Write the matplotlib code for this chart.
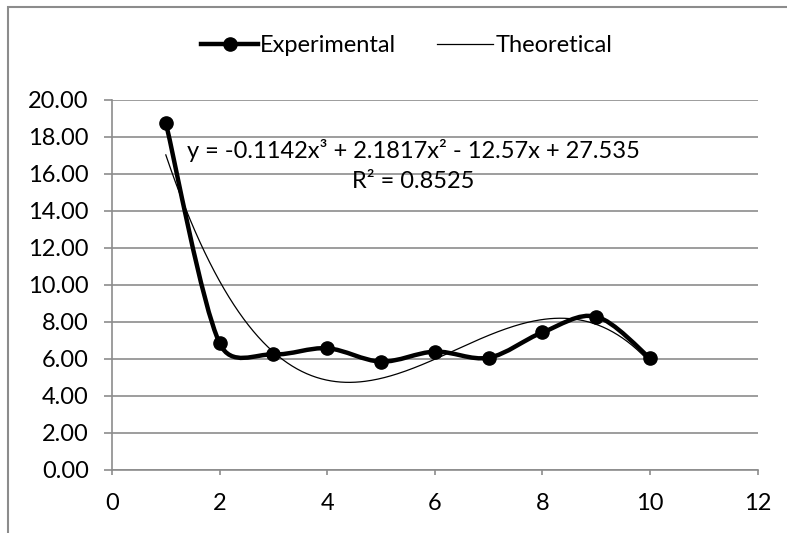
import numpy as np
import matplotlib.pyplot as plt
from matplotlib.path import Path
from matplotlib.patches import PathPatch
from matplotlib.lines import Line2D

plt.rcParams['font.family'] = ['Lato', 'DejaVu Sans']

# measured values
x_exp = [1, 2, 3, 4, 5, 6, 7, 8, 9, 10]
y_exp = [18.77, 6.85, 6.25, 6.58, 5.86, 6.40, 6.07, 7.44, 8.29, 6.04]

# cubic trendline coefficients (highest power first)
trend_coef = [-0.1142, 2.1817, -12.57, 27.535]
trend_label = 'y = -0.1142x³ + 2.1817x² - 12.57x + 27.535\nR² = 0.8525'

x_ticks = [0, 2, 4, 6, 8, 10, 12]
y_ticks = [0, 2, 4, 6, 8, 10, 12, 14, 16, 18, 20]

grid_col = '#8c8c8c'
fs = 17


def smooth_path(ax, xs, ys):
    # bezier segments like a spreadsheet "smoothed line", built in pixel space
    pts = ax.transData.transform(np.column_stack([xs, ys]).astype(float))
    n = len(pts)
    verts = [pts[0]]
    codes = [Path.MOVETO]
    for i in range(n - 1):
        p0 = pts[max(i - 1, 0)]
        p1 = pts[i]
        p2 = pts[i + 1]
        p3 = pts[min(i + 2, n - 1)]
        seg = np.hypot(*(p2 - p1))
        h1 = (p2 - p0) / 6.0
        h2 = (p3 - p1) / 6.0
        # keep handles from overshooting short segments
        lim = 0.5 * seg
        if np.hypot(*h1) > lim:
            h1 = h1 * lim / np.hypot(*h1)
        if np.hypot(*h2) > lim:
            h2 = h2 * lim / np.hypot(*h2)
        verts += [p1 + h1, p2 - h2, p2]
        codes += [Path.CURVE4] * 3
    verts = ax.transData.inverted().transform(np.array(verts))
    return Path(verts, codes)


fig = plt.figure(figsize=(7.87, 5.33), dpi=100)
ax = fig.add_axes([0.1423, 0.1182, 0.8205, 0.6942])

# outer chart frame (only left/top edges fall inside the image)
fig.add_artist(plt.Rectangle((8 / 787, -0.1), 1.2, 1.1 - 7 / 533,
                             transform=fig.transFigure, fill=False,
                             edgecolor=grid_col, linewidth=1.5))

ax.set_xlim(0, 12)
ax.set_ylim(0, 20)
ax.set_xticks(x_ticks)
ax.set_yticks(y_ticks)
ax.set_yticklabels([f'{v:.2f}' for v in y_ticks])
ax.set_xticklabels([str(v) for v in x_ticks])
ax.yaxis.grid(True, color=grid_col, linewidth=1.2)
ax.set_axisbelow(True)
for side in ['top', 'right']:
    ax.spines[side].set_visible(False)
for side in ['left', 'bottom']:
    ax.spines[side].set_color(grid_col)
    ax.spines[side].set_linewidth(1.2)
ax.tick_params(axis='y', length=5.8, width=1.2, color=grid_col, labelsize=fs, pad=11)
ax.tick_params(axis='x', length=3.6, width=1.2, color=grid_col, labelsize=fs, pad=13)

# theoretical trendline
xt = np.linspace(x_exp[0], x_exp[-1], 300)
ax.plot(xt, np.polyval(trend_coef, xt), color='black', linewidth=0.9, zorder=3)

# experimental smoothed line with markers
ax.add_patch(PathPatch(smooth_path(ax, x_exp, y_exp), facecolor='none',
                       edgecolor='black', linewidth=3.2, zorder=4,
                       capstyle='round', joinstyle='round'))
ax.plot(x_exp, y_exp, linestyle='none', marker='o', markersize=9.5,
        color='black', zorder=5)

ax.text(5.6, 16.45, trend_label, ha='center', va='center', fontsize=fs,
        linespacing=1.55)

handles = [Line2D([], [], color='black', linewidth=3.2, marker='o', markersize=9.5),
           Line2D([], [], color='black', linewidth=0.9)]
fig.legend(handles, ['Experimental', 'Theoretical'], loc='center',
           bbox_to_anchor=(0.517, 0.915), ncol=2, frameon=False, fontsize=fs,
           handlelength=2.4, handletextpad=0.1, columnspacing=1.7)

fig.savefig('out.png', dpi=100)
